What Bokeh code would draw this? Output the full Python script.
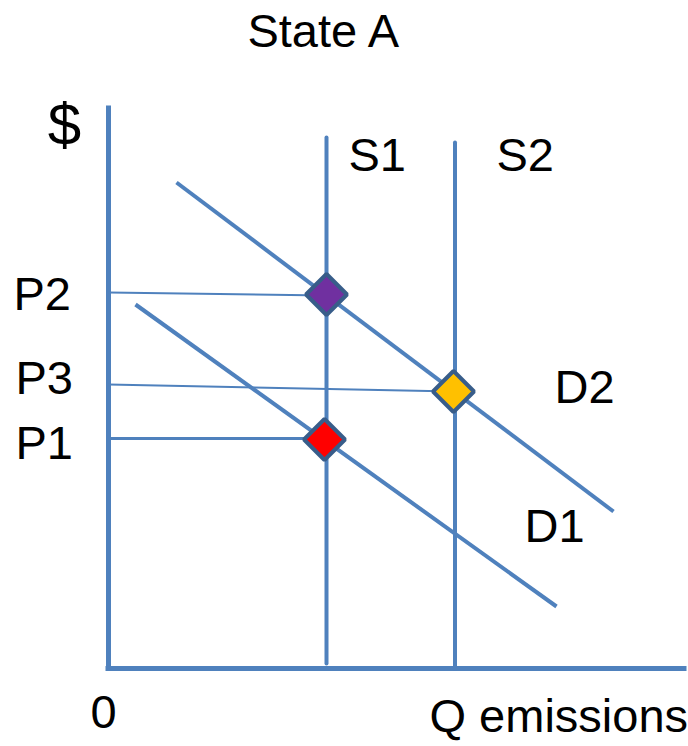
from bokeh.plotting import figure
from bokeh.models import Range1d
from bokeh.core.properties import value
from bokeh.embed import file_html
from bokeh.resources import INLINE
import numpy as np

# ---- chart values (arbitrary units: Q = quantity of emissions, P = price) ----
s1_q = 21.8
s1_p = [0.5, 53.1]
s2_q = 34.65
s2_p = [0.0, 52.6]
d2_q = [6.8, 50.5]
d2_p = [48.6, 15.7]
d1_q = [2.7, 44.8]
d1_p = [36.4, 6.2]
p2_line_q = [0.0, 21.8]
p2_line_p = [37.6, 37.3]
p3_line_q = [0.0, 34.5]
p3_line_p = [28.4, 27.7]
p1_line_q = [0.0, 21.6]
p1_line_p = [23.0, 23.0]
eq_q = [21.8, 21.6, 34.5]
eq_p = [37.4, 22.9, 27.7]
eq_colors = ["#7030A0", "#FF0000", "#FFC000"]
axis_q_max = 57.8
axis_p_max = 56.3

BLUE = "#4F81BD"
OUTLINE = "#385D8A"
FONT = value("Liberation Sans")

p = figure(width=688, height=746, output_backend="svg", toolbar_location=None,
           x_range=Range1d(-10.8, 58.0), y_range=Range1d(-7.8, 66.8),
           min_border=0, outline_line_color=None)
p.xaxis.visible = False
p.yaxis.visible = False
p.xgrid.visible = False
p.ygrid.visible = False

# axes
p.line([0, 0], [-0.1, axis_p_max], line_color=BLUE, line_width=5)
p.line([-0.3, axis_q_max], [0, 0], line_color=BLUE, line_width=5)

# guide lines
p.line(p2_line_q, p2_line_p, line_color=BLUE, line_width=2)
p.line(p3_line_q, p3_line_p, line_color=BLUE, line_width=2)
p.line(p1_line_q, p1_line_p, line_color=BLUE, line_width=3)

# supply
p.line([s1_q, s1_q], s1_p, line_color=BLUE, line_width=4, line_cap="round")
p.line([s2_q, s2_q], s2_p, line_color=BLUE, line_width=4, line_cap="round")
# demand
p.line(d2_q, d2_p, line_color=BLUE, line_width=4)
p.line(d1_q, d1_p, line_color=BLUE, line_width=4)

# equilibrium markers
p.scatter(eq_q, eq_p, marker="square", angle=np.pi / 4, size=29,
          fill_color=eq_colors, line_color=OUTLINE, line_width=4)

DY = 1.85  # baseline correction for the svg text renderer

def label(x, y, t, size="47px", align="left"):
    p.text([x], [y + DY], text=[t], text_font=FONT, text_font_size=size,
           text_color="black", text_align=align, text_baseline="alphabetic")

label(21.6, 62.0, "State A", align="center")
label(-4.4, 52.6, "$", size="60px", align="center")
label(24.0, 49.6, "S1")
label(38.8, 49.6, "S2")
label(44.6, 26.4, "D2")
label(41.6, 12.5, "D1")
label(-9.5, 35.7, "P2")
label(-9.3, 27.3, "P3")
label(-9.3, 20.8, "P1")
label(-0.5, -6.2, "0", align="center")
label(32.1, -6.5, "Q emissions")

open("out.html", "w").write(file_html(p, INLINE))
